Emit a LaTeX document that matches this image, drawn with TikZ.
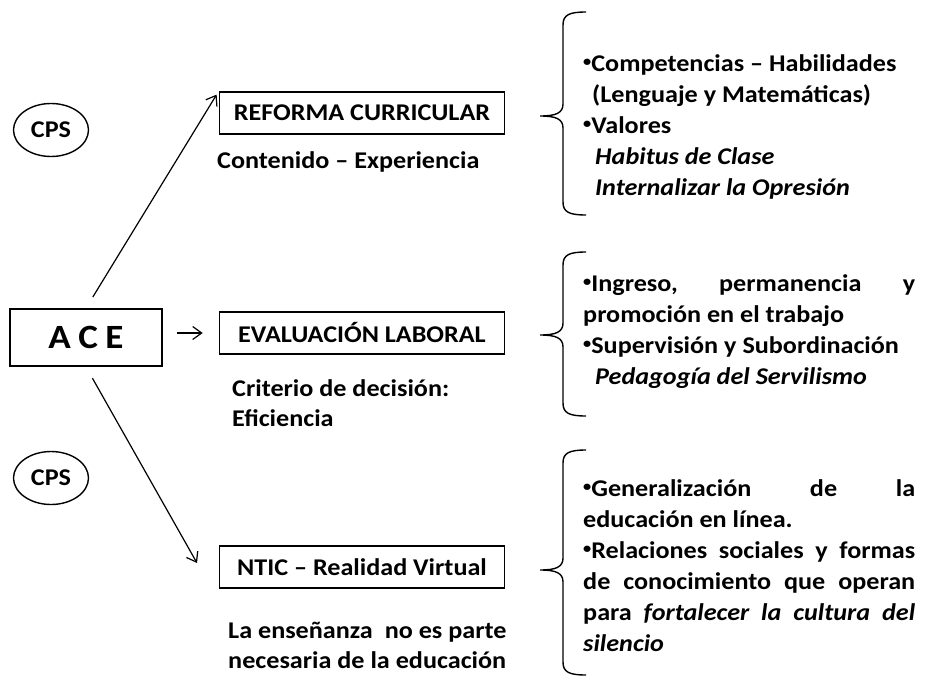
\documentclass[tikz,border=0pt]{standalone}
\usepackage{fontspec}
\setmainfont{Carlito}[FakeStretch=1.09]
\usetikzlibrary{arrows, arrows.meta, shapes, positioning}
\tikzstyle{box} = [draw, line width=1.6pt, minimum width=285pt, minimum height=42pt, inner sep=0pt, font=\bfseries\fontsize{24}{28}\selectfont]
\tikzstyle{acebox} = [draw, line width=1.7pt, minimum width=152pt, minimum height=57pt, inner sep=0pt, font=\bfseries\fontsize{34}{40}\selectfont]
\tikzstyle{cps} = [ellipse, draw, line width=1.4pt, minimum width=75pt, minimum height=53pt, inner sep=0pt, font=\bfseries\fontsize{24}{28}\selectfont]
\tikzstyle{note} = [anchor=base west, inner sep=0pt, text width=330pt, align=flush left, font=\bfseries\fontsize{24}{30}\selectfont]
\tikzstyle{list} = [anchor=base west, inner sep=0pt, text width=332pt, align=flush left, font=\bfseries\fontsize{24}{31}\selectfont]
\tikzstyle{link} = [-{Straight Barb[length=9pt, width=13pt]}, line width=1.2pt]
\newcommand{\jline}[1]{\makebox[332pt][s]{#1}}
\newcommand{\dotitem}{\raisebox{0.18em}{\fontsize{15}{15}\selectfont •}}
\newcommand{\curly}[3]{%
  \draw [line width=1.4pt] (586,#1) .. controls (569,#1) and (563,{#1+3}) .. (563,{#1+13})
    -- (563,{#2-12}) .. controls (563,{#2-3}) and (556,#2) .. (540,#2)
    .. controls (556,#2) and (563,{#2+3}) .. (563,{#2+12})
    -- (563,{#3-13}) .. controls (563,{#3-3}) and (569,#3) .. (586,#3);}

\begin{document}
\begin{tikzpicture}[x=1pt, y=-1pt]
  \useasboundingbox (0,0) rectangle (933,677);

  \node (Ace) [acebox] at (86,337.5) {A\hspace{0.22em}C\hspace{0.22em}E};
  \node (Cps1) [cps] at (51,130) {CPS};
  \node (Cps2) [cps] at (51,478) {CPS};

  \node (Reforma) [box] at (362,113) {REFORMA CURRICULAR};
  \node (Eval) [box] at (362,333) {EVALUACIÓN LABORAL};
  \node (Ntic) [box] at (362,567) {NTIC – Realidad Virtual};

  \node (ReformaNote) [note] at (217,168) {Contenido – Experiencia};
  \node (EvalNote) [note] at (232,396) {Criterio de decisión:\\Eficiencia};
  \node (NticNote) [note] at (228,638) {La enseñanza\hspace{0.25em} no es parte\\necesaria de la educación};

  \coordinate (NticIn) at (197,563);
  \draw [link, shorten <=13pt, shorten >=4pt] (Ace.north) -- (Reforma.north west);
  \draw [link, shorten <=14pt, shorten >=16pt] (Ace.east |- Eval.west) -- (Eval.west);
  \draw [link, shorten <=13pt] (Ace.south) -- (NticIn);

  % llaves
  \curly{12}{116}{215}
  \curly{252}{335}{416}
  \curly{450}{570}{675}

  \node (ReformaList) [list] at (583,71) {%
    \dotitem Competencias – Habilidades\\
    \hspace*{9pt}(Lenguaje y Matemáticas)\\
    \dotitem Valores\\
    \hspace*{12pt}\textit{Habitus de Clase}\\
    \hspace*{12pt}\textit{Internalizar la Opresión}};
  \node (EvalList) [list] at (583,291) {%
    \jline{\dotitem Ingreso,\hfill permanencia\hfill y}\\
    promoción en el trabajo\\
    \dotitem Supervisión y Subordinación\\
    \hspace*{12pt}\textit{Pedagogía del Servilismo}};
  \node (NticList) [list] at (583,496) {%
    \jline{\dotitem Generalización\hfill de\hfill la}\\
    educación en línea.\\
    \jline{\dotitem Relaciones sociales y formas}\\
    \jline{de conocimiento que operan}\\
    \jline{para \textit{fortalecer la cultura del}}\\
    \textit{silencio}};
\end{tikzpicture}
\end{document}
